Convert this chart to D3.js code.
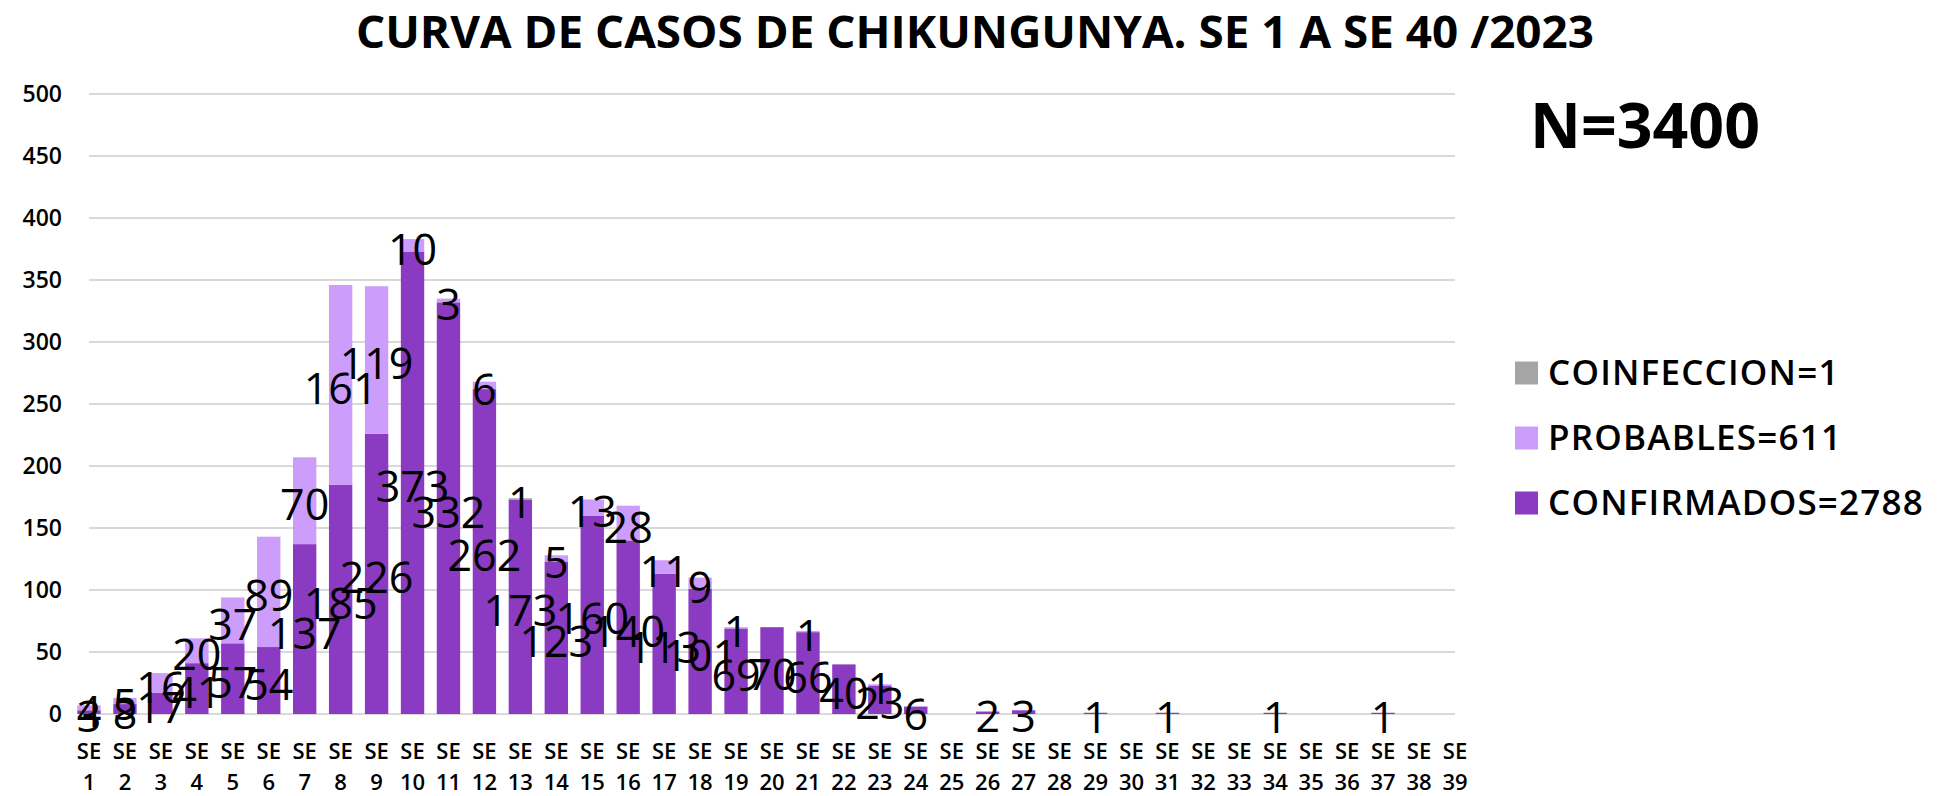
<!DOCTYPE html>
<html>
<head>
<meta charset="utf-8">
<script src="https://cdn.jsdelivr.net/npm/d3@7"></script>
<style>
  body { margin: 0; background: #fff; }
  svg { display: block; font-family: "Open Sans", sans-serif; }
</style>
</head>
<body>
<div id="chart"></div>
<script>
'use strict';

// epi weeks shown on the axis (SE 1 .. SE 39)
var weeks = [1, 2, 3, 4, 5, 6, 7, 8, 9, 10, 11, 12, 13, 14, 15, 16, 17, 18, 19, 20,
             21, 22, 23, 24, 25, 26, 27, 28, 29, 30, 31, 32, 33, 34, 35, 36, 37, 38, 39];

var confirmados = [3, 8, 17, 41, 57, 54, 137, 185, 226, 373, 332, 262, 173, 123, 160, 140, 113, 101, 69, 70,
                   66, 40, 23, 6, 0, 2, 3, 0, 1, 0, 1, 0, 0, 1, 0, 0, 1, 0, 0];
var probables   = [4, 5, 16, 20, 37, 89, 70, 161, 119, 10, 3, 6, 0, 5, 13, 28, 11, 9, 1, 0,
                   1, 0, 1, 0, 0, 0, 0, 0, 0, 0, 0, 0, 0, 0, 0, 0, 0, 0, 0];
var coinfeccion = [0, 0, 0, 0, 0, 0, 0, 0, 0, 0, 0, 0, 1, 0, 0, 0, 0, 0, 0, 0,
                   0, 0, 0, 0, 0, 0, 0, 0, 0, 0, 0, 0, 0, 0, 0, 0, 0, 0, 0];

var yTicks = [0, 50, 100, 150, 200, 250, 300, 350, 400, 450, 500];

var legendLabels = ['COINFECCION=1', 'PROBABLES=611', 'CONFIRMADOS=2788'];
var legendKeys = ['coinfeccion', 'probables', 'confirmados'];

var title = 'CURVA DE CASOS DE CHIKUNGUNYA. SE 1 A SE 40 /2023';
var totalText = 'N=3400';

var colors = {
  confirmados: '#8a3bc1',
  probables: '#cc9dfb',
  coinfeccion: '#a5a5a5'
};

var width = 1938, height = 796;
var plot = {left: 89, right: 1455, top: 94, bottom: 714};

// build rows for d3.stack
var rows = weeks.map(function (w, i) {
  return {week: w, confirmados: confirmados[i], probables: probables[i], coinfeccion: coinfeccion[i]};
});

var svg = d3.select('#chart').append('svg')
    .attr('width', width)
    .attr('height', height);

// categories sit on the tick marks (first and last at the plot edges)
var x = d3.scalePoint().domain(weeks).range([plot.left, plot.right]);
var y = d3.scaleLinear().domain([0, 500]).range([plot.bottom, plot.top]);
var barWidth = x.step() * 0.65;

// gridlines
svg.append('g')
  .selectAll('line')
  .data(yTicks)
  .join('line')
    .attr('x1', plot.left)
    .attr('x2', plot.right)
    .attr('y1', function (d) { return y(d); })
    .attr('y2', function (d) { return y(d); })
    .attr('stroke', '#d9d9d9')
    .attr('stroke-width', 2);

// y axis labels
var yAxis = svg.append('g')
    .attr('transform', 'translate(' + plot.left + ',0)')
    .call(d3.axisLeft(y).tickValues(yTicks).tickSize(0).tickPadding(27));
yAxis.select('.domain').remove();
yAxis.selectAll('text')
    .attr('font-family', '"Open Sans", sans-serif')
    .attr('font-size', 23)
    .attr('font-weight', 600)
    .attr('fill', '#000');

// x axis labels, two lines: "SE" and the week number
var xLab = svg.append('g')
  .selectAll('text')
  .data(weeks)
  .join('text')
    .attr('text-anchor', 'middle')
    .attr('font-size', 22)
    .attr('font-weight', 600)
    .attr('fill', '#000');
xLab.append('tspan')
    .attr('x', function (d) { return x(d); })
    .attr('y', 759)
    .text('SE');
xLab.append('tspan')
    .attr('x', function (d) { return x(d); })
    .attr('y', 790)
    .text(function (d) { return d; });

// stacked bars
var stack = d3.stack().keys(['confirmados', 'probables', 'coinfeccion']);
var series = stack(rows);

svg.append('g')
  .selectAll('g')
  .data(series)
  .join('g')
    .attr('fill', function (s) { return colors[s.key]; })
  .selectAll('rect')
  .data(function (s) { return s; })
  .join('rect')
    .attr('x', function (d) { return x(d.data.week) - barWidth / 2; })
    .attr('y', function (d) { return y(d[1]); })
    .attr('width', barWidth)
    .attr('height', function (d) { return y(d[0]) - y(d[1]); });

// data labels, centred on each segment
svg.append('g')
  .selectAll('g')
  .data(series)
  .join('g')
  .selectAll('text')
  .data(function (s) {
    return s.map(function (d) { return {d: d, v: d.data[s.key]}; })
            .filter(function (o) { return o.v > 0; });
  })
  .join('text')
    .attr('x', function (o) { return x(o.d.data.week); })
    .attr('y', function (o) { return (y(o.d[0]) + y(o.d[1])) / 2 + 3; })
    .attr('dominant-baseline', 'central')
    .attr('text-anchor', 'middle')
    .attr('font-size', 43)
    .attr('fill', '#000')
    .text(function (o) { return o.v; });

// title
svg.append('text')
    .attr('x', 975)
    .attr('y', 48)
    .attr('text-anchor', 'middle')
    .attr('font-size', 45)
    .attr('font-weight', 700)
    .attr('textLength', 1238)
    .attr('lengthAdjust', 'spacingAndGlyphs')
    .text(title);

// N total
svg.append('text')
    .attr('x', 1530)
    .attr('y', 148)
    .attr('font-size', 63)
    .attr('font-weight', 700)
    .attr('textLength', 230)
    .attr('lengthAdjust', 'spacingAndGlyphs')
    .text(totalText);

// legend
var legend = svg.append('g')
  .selectAll('g')
  .data(legendKeys)
  .join('g')
    .attr('transform', function (d, i) { return 'translate(1515,' + (373 + i * 65) + ')'; });
legend.append('rect')
    .attr('x', 0)
    .attr('y', -11.5)
    .attr('width', 23)
    .attr('height', 23)
    .attr('fill', function (d) { return colors[d]; });
legend.append('text')
    .attr('x', 33)
    .attr('y', 12)
    .attr('font-size', 35)
    .attr('font-weight', 600)
    .attr('letter-spacing', 1.2)
    .attr('fill', '#000')
    .text(function (d, i) { return legendLabels[i]; });
</script>
</body>
</html>
